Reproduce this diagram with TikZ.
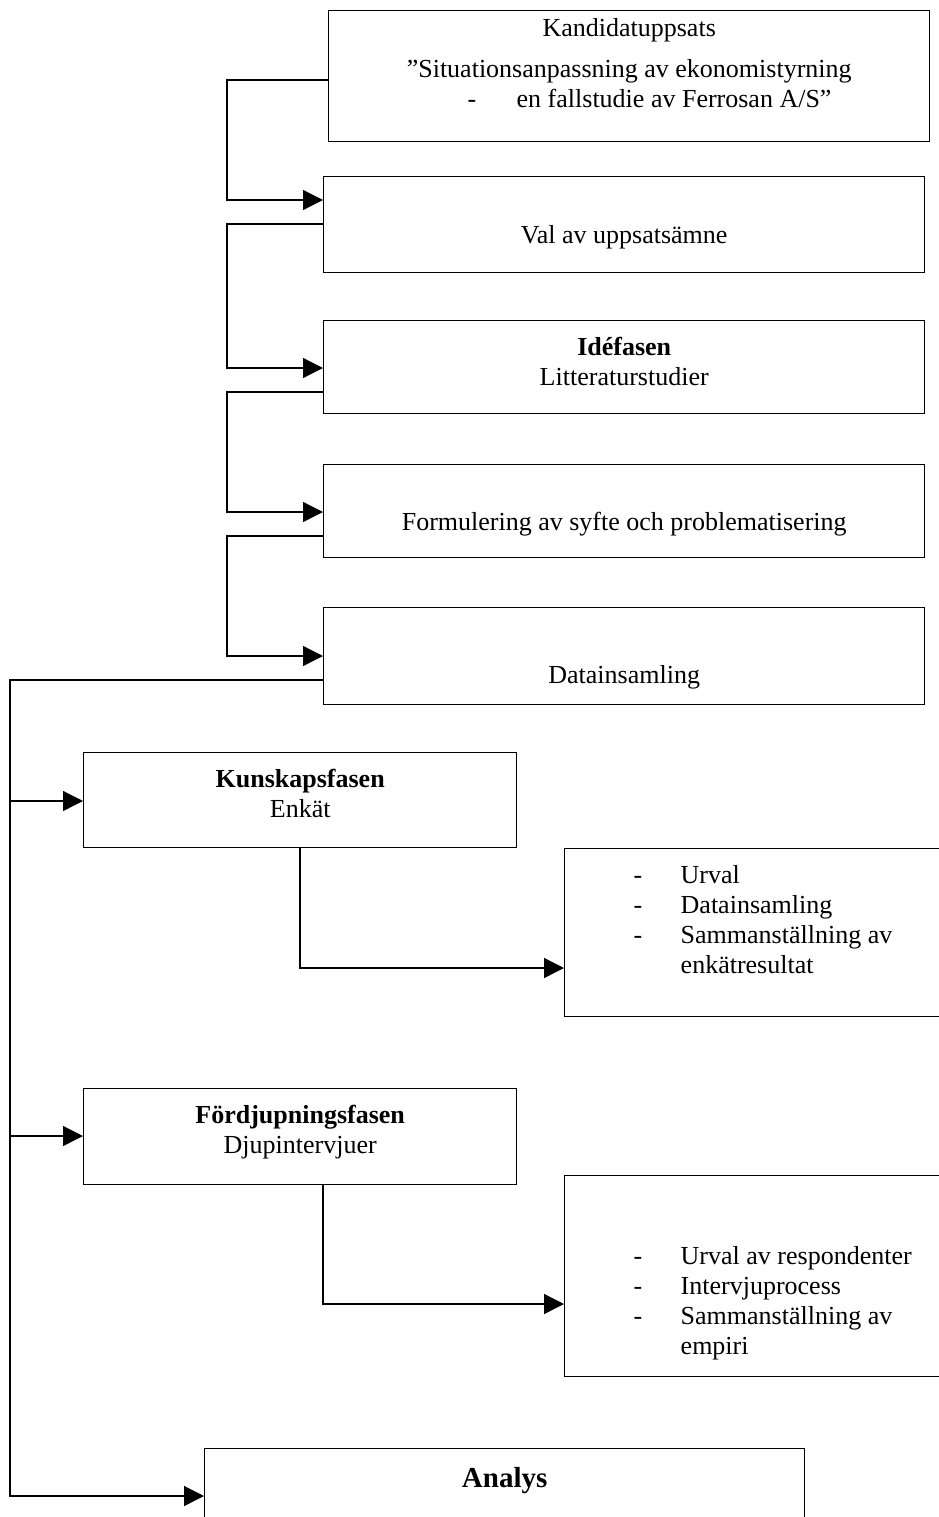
\documentclass[tikz,border=0pt]{standalone}
\usepackage{fontspec}
\setmainfont{Liberation Serif}
\usetikzlibrary{arrows.meta}
\newcommand{\boxtxt}[4]{\parbox[c][#2][t]{#1}{\raggedright\vspace*{#3}#4}}
\newcommand{\mkc}[1]{\makebox[\linewidth][c]{#1}}
\newcommand{\itm}[1]{\hspace*{69pt}\makebox[47pt][l]{-}#1}
\newcommand{\cont}[1]{\hspace*{116pt}#1}
\begin{document}
\begin{tikzpicture}[x=1pt,y=-1pt,
  box/.style={draw, line width=1.4pt, inner sep=0pt, anchor=north west,
    font=\fontsize{26}{30}\selectfont},
  conn/.style={line width=1.3pt, -{Triangle[length=20pt,width=20pt]}},
  plainline/.style={line width=1.3pt}]
\useasboundingbox[fill=white] (0,0) rectangle (938,1517);

\node[box] (b1) at (328,10) {\boxtxt{601pt}{131pt}{5pt}{\strut\mkc{Kandidatuppsats}\\[11pt]\mkc{”Situationsanpassning av ekonomistyrning}\\\hspace*{139pt}\makebox[49pt][l]{-}en fallstudie av Ferrosan A/S”}};
\node[box] (b2) at (323,176) {\boxtxt{601pt}{96pt}{46pt}{\strut\mkc{Val av uppsatsämne}}};
\node[box] (b3) at (323,320) {\boxtxt{601pt}{93pt}{14pt}{\strut\mkc{\textbf{Idéfasen}}\\\mkc{Litteraturstudier}}};
\node[box] (b4) at (323,464) {\boxtxt{601pt}{93pt}{45pt}{\strut\mkc{Formulering av syfte och problematisering}}};
\node[box] (b5) at (323,607) {\boxtxt{601pt}{97pt}{55pt}{\strut\mkc{Datainsamling}}};
\node[box] (b6) at (83,752) {\boxtxt{433pt}{95pt}{14pt}{\strut\mkc{\textbf{Kunskapsfasen}}\\\mkc{Enkät}}};
\node[box] (b7) at (564,848) {\boxtxt{430pt}{168pt}{14pt}{\strut\itm{Urval}\\\itm{Datainsamling}\\\itm{Sammanställning av}\\\cont{enkätresultat}}};
\node[box] (b8) at (83,1088) {\boxtxt{433pt}{96pt}{14pt}{\strut\mkc{\textbf{Fördjupningsfasen}}\\\mkc{Djupintervjuer}}};
\node[box] (b9) at (564,1175) {\boxtxt{430pt}{201pt}{68pt}{\strut\itm{Urval av respondenter}\\\itm{Intervjuprocess}\\\itm{Sammanställning av}\\\cont{empiri}}};
\node[box] (b10) at (204,1448) {\boxtxt{600pt}{100pt}{18pt}{\strut\mkc{\fontsize{29}{30}\selectfont\textbf{Analys}}}};

\draw[conn] ([yshift=-70pt]b1.north west) -- ++(-101,0) |- ([yshift=-24pt]b2.north west);
\draw[conn] ([yshift=-48pt]b2.north west) -- ++(-96,0) |- ([yshift=-48pt]b3.north west);
\draw[conn] ([yshift=-72pt]b3.north west) -- ++(-96,0) |- ([yshift=-48pt]b4.north west);
\draw[conn] ([yshift=-72pt]b4.north west) -- ++(-96,0) |- ([yshift=-49pt]b5.north west);

\coordinate (j1) at (10,801);
\coordinate (j2) at (10,1136);
\draw[conn] ([yshift=-73pt]b5.north west) -- ++(-313,0) |- ([yshift=-48pt]b10.north west);
\draw[conn] (j1) -- (j1 -| b6.west);
\draw[conn] (j2) -- (j2 -| b8.west);

\draw[conn] ([xshift=217pt]b6.south west) |- ([yshift=-120pt]b7.north west);
\draw[conn] ([xshift=240pt]b8.south west) |- ([yshift=-129pt]b9.north west);
\end{tikzpicture}
\end{document}
